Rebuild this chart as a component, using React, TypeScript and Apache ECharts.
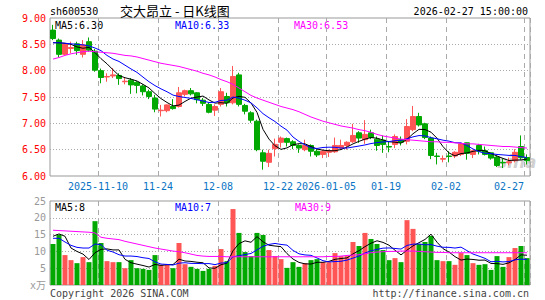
import React, { useEffect, useRef } from 'react';
import * as echarts from 'echarts';

const dates = [
  '2025-10-29','2025-10-30','2025-10-31','2025-11-03','2025-11-04','2025-11-05','2025-11-06','2025-11-07',
  '2025-11-10','2025-11-11','2025-11-12','2025-11-13','2025-11-14','2025-11-17','2025-11-18','2025-11-19',
  '2025-11-20','2025-11-21','2025-11-24','2025-11-25','2025-11-26','2025-11-27','2025-11-28','2025-12-01',
  '2025-12-02','2025-12-03','2025-12-04','2025-12-05','2025-12-08','2025-12-09','2025-12-10','2025-12-11',
  '2025-12-12','2025-12-15','2025-12-16','2025-12-17','2025-12-18','2025-12-19','2025-12-22','2025-12-23',
  '2025-12-24','2025-12-25','2025-12-26','2025-12-29','2025-12-30','2025-12-31','2026-01-05','2026-01-06',
  '2026-01-07','2026-01-08','2026-01-09','2026-01-12','2026-01-13','2026-01-14','2026-01-15','2026-01-16',
  '2026-01-19','2026-01-20','2026-01-21','2026-01-22','2026-01-23','2026-01-26','2026-01-27','2026-01-28',
  '2026-01-29','2026-01-30','2026-02-02','2026-02-03','2026-02-04','2026-02-05','2026-02-06','2026-02-09',
  '2026-02-10','2026-02-11','2026-02-12','2026-02-13','2026-02-24','2026-02-25','2026-02-26','2026-02-27',
];

const opens = [
  8.77,8.58,8.31,8.42,8.51,8.31,8.55,8.37,8.00,7.88,
  7.90,7.91,7.79,7.82,7.78,7.71,7.60,7.48,7.24,7.24,
  7.32,7.32,7.55,7.62,7.58,7.44,7.36,7.25,7.36,7.51,
  7.39,7.92,7.34,7.20,7.04,6.44,6.26,6.52,6.64,6.71,
  6.65,6.58,6.50,6.58,6.47,6.41,6.45,6.46,6.53,6.58,
  6.65,6.82,6.69,6.82,6.70,6.68,6.56,6.60,6.69,6.66,
  6.88,7.13,6.99,6.72,6.38,6.32,6.38,6.38,6.41,6.63,
  6.41,6.58,6.48,6.44,6.36,6.26,6.25,6.29,6.56,6.35,
];
const closes = [
  8.61,8.31,8.51,8.44,8.38,8.49,8.39,8.01,7.87,7.89,
  7.92,7.85,7.80,7.73,7.72,7.60,7.51,7.27,7.25,7.35,
  7.28,7.58,7.62,7.56,7.45,7.38,7.21,7.32,7.60,7.39,
  7.89,7.36,7.23,7.06,6.50,6.28,6.43,6.60,6.72,6.64,
  6.58,6.53,6.58,6.47,6.40,6.47,6.48,6.58,6.58,6.64,
  6.77,6.72,6.79,6.73,6.58,6.60,6.55,6.75,6.64,6.94,
  7.13,6.97,6.73,6.39,6.37,6.33,6.37,6.45,6.61,6.43,
  6.48,6.47,6.41,6.34,6.20,6.25,6.27,6.45,6.35,6.29,
];
const lows = [
  8.58,8.25,8.30,8.33,8.30,8.25,8.36,7.98,7.76,7.79,
  7.86,7.73,7.74,7.56,7.57,7.53,7.46,7.21,7.13,7.21,
  7.26,7.30,7.51,7.53,7.38,7.33,7.19,7.14,7.32,7.32,
  7.36,7.32,7.17,7.01,6.47,6.12,6.17,6.37,6.54,6.56,
  6.51,6.44,6.47,6.37,6.36,6.34,6.36,6.44,6.50,6.50,
  6.63,6.63,6.61,6.70,6.48,6.44,6.45,6.53,6.58,6.60,
  6.85,6.94,6.70,6.32,6.22,6.26,6.26,6.34,6.38,6.31,
  6.34,6.41,6.39,6.31,6.17,6.15,6.20,6.26,6.31,6.22,
];
const highs = [
  8.87,8.61,8.52,8.55,8.55,8.58,8.63,8.41,8.04,7.95,
  8.05,7.95,7.86,7.86,7.80,7.74,7.64,7.54,7.35,7.36,
  7.46,7.69,7.64,7.67,7.59,7.48,7.39,7.36,7.67,7.58,
  8.09,7.96,7.37,7.23,7.07,6.50,6.50,6.71,6.75,6.73,
  6.68,6.60,6.69,6.60,6.51,6.50,6.50,6.73,6.69,6.66,
  6.99,6.85,7.06,6.88,6.75,6.77,6.66,6.79,6.75,7.08,
  7.33,7.20,7.01,6.75,6.44,6.39,6.47,6.47,6.63,6.64,
  6.50,6.61,6.56,6.45,6.39,6.33,6.35,6.51,6.77,6.41,
];

// volume, in 万
const volumes = [
  12.2,14.9,8.9,7.4,6.5,8.3,6.8,19.0,12.5,7.1,
  6.8,6.8,5.0,7.4,5.0,4.8,4.5,8.9,6.0,6.0,
  5.0,12.5,6.2,5.4,4.8,4.2,4.8,5.7,10.7,7.1,
  22.6,15.5,9.8,8.6,15.5,14.9,10.4,8.6,7.7,5.1,
  6.8,5.4,6.5,7.4,7.7,6.8,6.8,9.5,8.6,8.6,
  12.8,11.6,15.5,13.7,12.2,10.4,7.4,8.0,6.8,19.3,
  16.7,12.2,12.8,14.6,7.4,7.1,7.1,6.0,9.5,8.9,
  6.5,6.0,6.2,4.5,8.6,5.4,8.3,11.0,11.6,8.0,
];

const priceMa5Head = [8.53, 8.53, 8.52, 8.50];
const priceMa10Head = [8.53, 8.53, 8.52, 8.51, 8.50, 8.49, 8.47, 8.43, 8.38];
const priceMa30 = [
  8.22,8.25,8.29,8.32,8.34,8.36,8.37,8.36,8.35,8.34,
  8.33,8.31,8.29,8.28,8.26,8.23,8.20,8.17,8.14,8.12,
  8.10,8.08,8.05,8.02,7.99,7.95,7.92,7.88,7.83,7.79,
  7.74,7.67,7.60,7.53,7.48,7.44,7.40,7.36,7.32,7.29,
  7.26,7.22,7.17,7.12,7.08,7.04,7.01,6.98,6.95,6.93,
  6.91,6.88,6.86,6.83,6.79,6.76,6.74,6.72,6.70,6.69,
  6.68,6.67,6.66,6.65,6.65,6.64,6.64,6.63,6.62,6.61,
  6.61,6.60,6.59,6.58,6.57,6.56,6.56,6.55,6.54,6.53,
];
const volMa5Head = [14.5, 15.2, 14.5, 11.0];
const volMa10Head = [13.9, 13.9, 12.8, 11.8, 11.2, 11.0, 11.0, 12.2, 12.0];
const volMa30 = [
  16.3,16.2,16.1,16.0,15.9,15.8,15.7,15.5,14.2,13.9,
  13.7,13.5,13.0,12.6,12.2,11.8,11.4,11.0,10.7,10.4,
  10.1,9.9,9.6,9.2,8.8,8.6,8.5,8.5,8.5,8.4,
  8.4,8.4,8.4,8.4,8.4,8.4,8.4,8.4,8.4,8.4,
  8.4,8.4,8.4,8.4,8.4,8.4,8.5,8.5,8.6,8.8,
  8.9,9.0,9.3,9.6,9.8,9.9,10.0,10.0,10.1,10.1,
  10.1,10.0,9.9,9.8,9.7,9.7,9.6,9.6,9.6,9.6,
  9.6,9.6,9.6,9.6,9.6,9.6,9.6,9.6,9.6,9.6,
];

const xTickIndex = [8, 18, 28, 38, 46, 56, 66, 79];
const xTickLabels = ['2025-11-10', '11-24', '12-08', '12-22', '2026-01-05', '01-19', '02-02', '02-27'];

const priceLegend = ['MA5:6.30', 'MA10:6.33', 'MA30:6.53'];
const volLegend = ['MA5:8', 'MA10:7', 'MA30:9'];

const stockCode = 'sh600530';
const titleText = '交大昂立 - 日K线图';
const timeText = '2026-02-27 15:00:00';

function movingAvg(values: number[], n: number, head: number[]) {
  return values.map((_, i) => {
    if (i < head.length) return head[i];
    let s = 0;
    for (let k = i - n + 1; k <= i; k++) s += values[k];
    return +(s / n).toFixed(3);
  });
}

const MONO = '"DejaVu Sans Mono", monospace';
const RED = '#ff5555';
const GREEN = '#00a800';
const BLUE_LBL = '#0a74c4';

export default function App() {
  const ref = useRef<HTMLDivElement>(null);
  useEffect(() => {
    if (!ref.current) return;
    const chart = echarts.init(ref.current, undefined, { renderer: 'svg' });
    const tickFn = (index: number) => xTickIndex.indexOf(index) >= 0;
    const candle = dates.map((_, i) => [opens[i], closes[i], lows[i], highs[i]]);
    const volData = volumes.map((v, i) => ({
      value: v,
      itemStyle: { color: closes[i] >= opens[i] ? RED : GREEN },
    }));
    const ma5 = movingAvg(closes, 5, priceMa5Head);
    const ma10 = movingAvg(closes, 10, priceMa10Head);
    const vma5 = movingAvg(volumes, 5, volMa5Head);
    const vma10 = movingAvg(volumes, 10, volMa10Head);

    const splitV = { show: true, interval: tickFn, lineStyle: { color: '#aaa', type: [5, 4], width: 1 } };
    const splitH = { show: true, showMinLine: false, showMaxLine: false, lineStyle: { color: '#aaa', type: [1, 2], width: 1 } };
    const lineS = (data: number[], color: string, xi: number) => ({
      type: 'line', data, xAxisIndex: xi, yAxisIndex: xi, showSymbol: false, symbol: 'none',
      lineStyle: { color, width: 1 }, itemStyle: { color }, silent: true, z: 3,
    });
    const txt = (text: string, x: number, y: number, fill: string, align = 'left', font = `10px ${MONO}`, lh = 11) => ({
      type: 'text', x, y, silent: true,
      style: { text, fill, font, lineHeight: lh, textAlign: align, align, textVerticalAlign: 'middle', verticalAlign: 'middle' },
    });

    chart.setOption({
      animation: false,
      backgroundColor: '#ffffff',
      grid: [
        { left: 50, top: 18, width: 480, height: 158, show: true, borderColor: '#999', borderWidth: 1, backgroundColor: 'transparent' },
        { left: 50, top: 201, width: 480, height: 84, show: true, borderColor: '#999', borderWidth: 1, backgroundColor: 'transparent' },
      ],
      xAxis: [
        {
          type: 'category', gridIndex: 0, data: dates, boundaryGap: true,
          axisLine: { show: false }, axisTick: { show: false, interval: tickFn },
          axisLabel: {
            interval: tickFn, margin: 5,
            formatter: (_v: string, index: number) => {
              const k = xTickIndex.indexOf(index);
              const lbl = k >= 0 ? xTickLabels[k] : '';
              return index === dates.length - 1 ? `{l|${lbl}}` : `{n|${lbl}}`;
            },
            rich: {
              n: { color: BLUE_LBL, fontFamily: MONO, fontSize: 10, padding: [0, 6, 0, 0] },
              l: { color: BLUE_LBL, fontFamily: MONO, fontSize: 10, padding: [0, 36, 0, 0] },
            },
          },
          splitLine: splitV,
        },
        {
          type: 'category', gridIndex: 1, data: dates, boundaryGap: true,
          axisLine: { show: false }, axisTick: { show: false, interval: tickFn },
          axisLabel: { show: false, interval: tickFn },
          splitLine: splitV,
        },
      ],
      yAxis: [
        {
          type: 'value', gridIndex: 0, min: 6, max: 9, interval: 0.5,
          axisLine: { show: false }, axisTick: { show: false },
          axisLabel: { color: '#ff0000', fontFamily: MONO, fontSize: 10, margin: 4, formatter: (v: number) => v.toFixed(2) },
          splitLine: splitH,
        },
        {
          type: 'value', gridIndex: 1, min: 0, max: 25, interval: 5,
          axisLine: { show: false }, axisTick: { show: false },
          axisLabel: {
            color: '#999', fontFamily: `${MONO}, "Noto Sans CJK SC"`, fontSize: 10, margin: 4,
            formatter: (v: number) => (v === 0 ? 'x万' : String(v)),
          },
          splitLine: splitH,
        },
      ],
      series: [
        {
          type: 'candlestick', data: candle, xAxisIndex: 0, yAxisIndex: 0, barWidth: 5, silent: true,
          itemStyle: { color: RED, color0: GREEN, borderColor: RED, borderColor0: GREEN, borderWidth: 1 },
        },
        lineS(ma5, '#000000', 0),
        lineS(ma10, '#0000ff', 0),
        lineS(priceMa30, '#ff00ff', 0),
        { type: 'bar', data: volData, xAxisIndex: 1, yAxisIndex: 1, barWidth: 5, silent: true },
        lineS(vma5, '#000000', 1),
        lineS(vma10, '#0000ff', 1),
        lineS(volMa30, '#ff00ff', 1),
      ],
      graphic: [
        txt(stockCode, 50, 11, '#000'),
        txt(titleText, 120, 10, '#000', 'left', '13px "Noto Sans CJK SC", sans-serif', 13),
        txt(timeText, 528, 11, '#000', 'right'),
        txt(priceLegend[0], 55, 25, '#000'),
        txt(priceLegend[1], 175, 25, '#0000ff'),
        txt(priceLegend[2], 294, 25, '#ff00ff'),
        txt(volLegend[0], 55, 207, '#000'),
        txt(volLegend[1], 175, 207, '#0000ff'),
        txt(volLegend[2], 295, 207, '#ff00ff'),
        txt('Copyright 2026 SINA.COM', 50, 293, '#444'),
        txt('http://finance.sina.com.cn', 529, 293, '#444', 'right'),
        txt('sina', 497, 162, 'rgba(170,170,170,0.55)', 'left', 'italic bold 17px "DejaVu Sans", sans-serif', 17),
      ],
    });
    return () => chart.dispose();
  }, []);
  return <div ref={ref} style={{ position: 'absolute', left: 0, top: 0, width: 545, height: 300 }} />;
}
